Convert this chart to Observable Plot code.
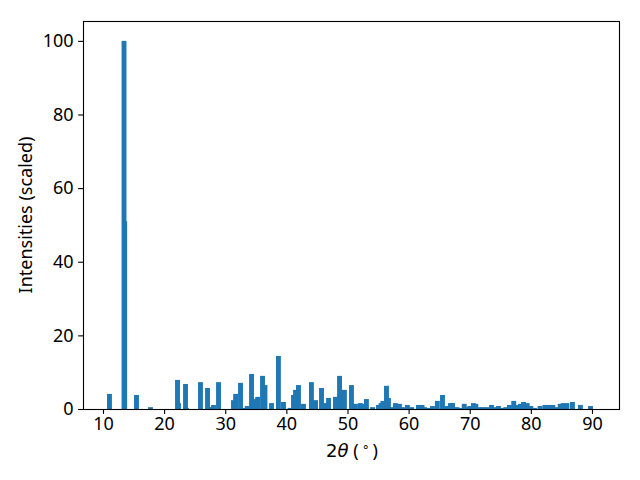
<!DOCTYPE html>
<html>
<head>
<meta charset="utf-8">
<script src="https://cdn.jsdelivr.net/npm/d3@7"></script>
<script src="https://cdn.jsdelivr.net/npm/@observablehq/plot@0.6"></script>
<style>
html,body{margin:0;padding:0;background:#fff;}
svg{display:block;}
</style>
</head>
<body>
<div id="chart"></div>
<script>
const twoTheta = [11.06,13.44,13.55,15.48,17.77,22.19,22.35,23.5,23.65,25.95,27.1,27.5,28.08,28.9,31.35,31.7,32.5,33.2,33.6,34.3,34.75,35.3,36.1,36.5,37.57,38.7,39.53,40.6,41.17,41.5,41.98,42.8,44.1,44.77,45.75,46.3,46.9,48.03,48.7,49.0,49.5,50.65,51.3,52.1,52.6,53.1,54.1,55.07,55.5,55.8,56.38,56.7,57.2,57.85,58.5,59.0,59.8,60.5,61.6,62.2,62.6,63.3,63.9,64.7,65.54,66.1,66.85,67.2,67.9,68.4,69.1,69.7,70.0,70.6,71.0,71.6,72.2,72.8,73.56,74.1,74.7,75.3,75.9,76.5,77.2,77.9,78.3,78.8,79.4,80.0,80.6,81.5,82.3,82.9,83.6,84.3,84.8,85.3,85.9,86.8,88.1,89.76];
const intensity = [4.1,100,51,3.8,0.5,7.9,1.6,6.8,0.3,7.3,5.7,0.5,1.1,7.3,2.4,4.1,7.1,0.3,0.8,9.5,2.7,3.3,9.0,6.5,1.6,14.4,1.9,0.3,3.8,5.2,6.5,1.4,7.3,2.4,5.7,1.6,3.0,3.3,9.0,4.1,5.2,6.5,1.4,1.6,1.4,2.7,0.5,1.1,1.6,2.2,6.3,3.0,0.5,1.6,1.4,0.5,1.1,0.5,1.1,1.1,0.5,0.3,0.8,2.2,3.8,0.8,1.6,1.6,0.5,0.3,1.4,0.5,0.8,1.6,1.4,0.5,0.5,0.5,1.1,0.5,0.8,0.3,0.5,1.1,2.2,1.1,1.4,1.9,1.6,0.8,0.3,0.8,1.1,1.1,1.1,0.5,1.4,1.6,1.6,1.9,1.1,0.8];
const xTicks = [10,20,30,40,50,60,70,80,90];
const yTicks = [0,20,40,60,80,100];
const barWidth = 0.8;

const data = twoTheta.map((p, i) => ({x1: p - barWidth/2, x2: p + barWidth/2, y: intensity[i]}));

const fontSize = 18;
const fontFamily = "Noto Sans";
const plot = Plot.plot({
  width: 640,
  height: 480,
  marginLeft: 83,
  marginRight: 21,
  marginTop: 21,
  marginBottom: 71,
  style: {fontFamily: fontFamily, fontSize: fontSize + "px", color: "black", background: "white"},
  x: {domain: [6.73, 94.42], label: null},
  y: {domain: [0, 105.4], label: null},
  marks: [
    Plot.rectY(data, {x1: "x1", x2: "x2", y1: 0, y2: "y", fill: "#1f77b4"}),
    Plot.axisX({ticks: xTicks, tickSize: 4.9, tickPadding: 3, fontSize: fontSize, label: null, tickFormat: d => String(d), stroke: "black", strokeWidth: 1.1, fill: "black"}),
    Plot.axisY({ticks: yTicks, tickSize: 4.9, tickPadding: 5, fontSize: fontSize, label: null, tickFormat: d => String(d), stroke: "black", strokeWidth: 1.1, fill: "black"}),
    Plot.frame({stroke: "black", strokeWidth: 1.1})
  ]
});
document.getElementById("chart").appendChild(plot);

const svg = d3.select(plot);
svg.selectAll("g[aria-label='x-axis tick label'] text, g[aria-label='y-axis tick label'] text")
  .style("font-size", fontSize + "px").style("font-family", fontFamily);

// y label
svg.append("text")
  .attr("transform", "translate(32,215) rotate(-90)")
  .attr("text-anchor", "middle")
  .style("font-family", fontFamily)
  .style("font-size", fontSize + "px")
  .attr("fill", "black")
  .text("Intensities (scaled)");

// x label: 2θ (°)
const xl = svg.append("text")
  .attr("x", 352)
  .attr("y", 457)
  .attr("text-anchor", "middle")
  .style("font-family", fontFamily)
  .style("font-size", fontSize + "px")
  .attr("fill", "black");
xl.append("tspan").style("font-family", "DejaVu Sans").text("2");
xl.append("tspan").style("font-family", "DejaVu Sans").attr("font-style", "italic").text("θ");
xl.append("tspan").text(" (\u2009");
xl.append("tspan").attr("dy", -6).style("font-family", "DejaVu Sans").style("font-size", (fontSize * 0.7) + "px").text("∘");
xl.append("tspan").attr("dy", 6).text("\u2009)");
</script>
</body>
</html>
